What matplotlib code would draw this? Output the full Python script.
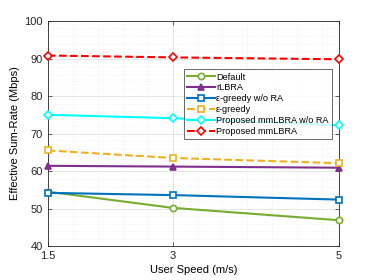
import numpy as np
import matplotlib
matplotlib.use("Agg")
import matplotlib.pyplot as plt
from matplotlib.ticker import MultipleLocator, FixedLocator

plt.rcParams["font.family"] = ["Liberation Sans", "DejaVu Sans"]

# ---------- data -------------------------------------------------------------
speeds = [1.5, 3, 5]
default = [54.5, 50.2, 46.9]
rlbra = [61.4, 61.2, 60.9]
eps_no_ra = [54.2, 53.6, 52.4]
eps_greedy = [65.5, 63.5, 62.1]
mmlbra_no_ra = [75.0, 74.1, 72.2]
mmlbra = [90.8, 90.3, 89.8]

# ---------- plot -------------------------------------------------------------
fig = plt.figure(figsize=(3.74, 2.8), dpi=100)
ax = fig.add_axes([0.128, 0.121, 0.778, 0.804])

series = [
    (default, "Default", "#77AC30", "o", "-", "white"),
    (rlbra, "rLBRA", "#7E2F8E", "^", "-", "#7E2F8E"),
    (eps_no_ra, "\u03b5-greedy w/o RA", "#0072BD", "s", "-", "white"),
    (eps_greedy, "\u03b5-greedy", "#EDB120", "s", "--", "white"),
    (mmlbra_no_ra, "Proposed mmLBRA w/o RA", "#00FFFF", "D", "-", "white"),
    (mmlbra, "Proposed mmLBRA", "#FF0000", "D", "--", "white"),
]
for vals, label, col, mk, ls, mfc in series:
    ax.plot(speeds, vals, ls, color=col, marker=mk, markersize=4.5,
            markerfacecolor=mfc, markeredgewidth=1.2, linewidth=1.5,
            label=label, clip_on=False, zorder=3)

ax.set_xlim(1.5, 5)
ax.set_ylim(40, 100)
ax.set_xticks(speeds, ["1.5", "3", "5"])
ax.xaxis.set_minor_locator(FixedLocator(np.arange(1.8, 5.0, 0.3)))
ax.yaxis.set_major_locator(MultipleLocator(10))
ax.yaxis.set_minor_locator(MultipleLocator(2))
ax.tick_params(labelsize=8, direction="in", length=3, width=0.5,
               top=True, right=True, colors="#262626")
ax.tick_params(which="minor", length=0, top=True, right=True)
ax.grid(True, which="major", color="#dcdcdc", linewidth=0.5)
ax.grid(True, which="minor", color="#e6e6e6", linewidth=0.4, linestyle=":")
for s in ax.spines.values():
    s.set_color("#262626")
    s.set_linewidth(0.6)

ax.set_xlabel("User Speed (m/s)", fontsize=8, labelpad=3)
ax.set_ylabel("Effective Sum-Rate (Mbps)", fontsize=8, labelpad=3)

leg = ax.legend(loc="upper right", bbox_to_anchor=(0.976, 0.785), fontsize=6.6,
                frameon=True, fancybox=False, edgecolor="#262626",
                handlelength=3.0, borderpad=0.35, labelspacing=0.2,
                handletextpad=0.15, borderaxespad=0)
leg.get_frame().set_linewidth(0.6)

fig.savefig("out.png", dpi=100)
